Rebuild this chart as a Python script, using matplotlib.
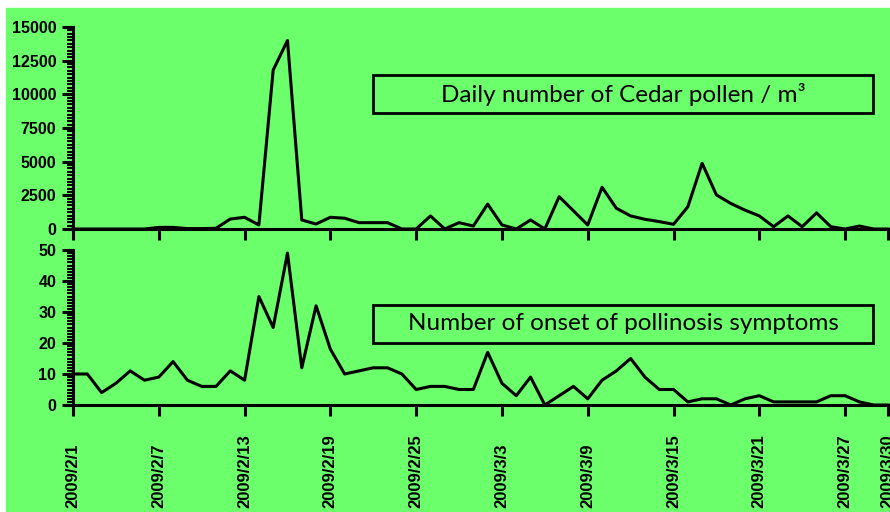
import pandas as pd
import matplotlib
matplotlib.use("Agg")
import matplotlib.pyplot as plt
from matplotlib.patches import Rectangle
from matplotlib.ticker import MultipleLocator

# dias 2009/2/1 .. 2009/3/30
fechas = pd.date_range("2009-02-01", periods=58, freq="D")
etiquetas = [f"{d.year}/{d.month}/{d.day}" for d in fechas]

# polen de cedro por dia (granos / m3)
polen = [0, 0, 0, 0, 0, 0, 120, 120, 30, 30,
         50, 740, 870, 300, 11800, 14000, 670, 370, 870, 800,
         470, 470, 470, 0, 0, 970, 0, 470, 220, 1850,
         300, 0, 670, 0, 2400, 1350, 300, 3100, 1540, 970,
         720, 550, 350, 1650, 4880, 2530, 1900, 1400, 970, 170,
         970, 170, 1200, 170, 0, 220, 0, 0]

# numero de casos de polinosis por dia
sintomas = [10, 10, 4, 7, 11, 8, 9, 14, 8, 6,
            6, 11, 8, 35, 25, 49, 12, 32, 18, 10,
            11, 12, 12, 10, 5, 6, 6, 5, 5, 17,
            7, 3, 9, 0, 3, 6, 2, 8, 11, 15,
            9, 5, 5, 1, 2, 2, 0, 2, 3, 1,
            1, 1, 1, 3, 3, 1, 0, 0]

titulo_sup = "Daily number of Cedar pollen / m\u00b3"
titulo_inf = "Number of onset of pollinosis symptoms"

verde = "#6bff6b"
dias = list(range(len(fechas)))
ticks_x = list(range(0, 55, 6)) + [57]

fig = plt.figure(figsize=(8.9, 5.12), dpi=100)
fig.patch.set_facecolor("white")
fig.patches.append(Rectangle((6 / 890, 0), 1 - 6 / 890, 504 / 512,
                             transform=fig.transFigure, color=verde, zorder=-1))

fuente_y = {"family": "Liberation Sans", "weight": "bold", "size": 11.5}
fuente_x = {"family": "Liberation Sans", "weight": "bold", "size": 12}

def estilo(ax, ymax, ymayor, ymenor):
    ax.set_facecolor("none")
    for s in ["top", "right"]:
        ax.spines[s].set_visible(False)
    for s in ["left", "bottom"]:
        ax.spines[s].set_linewidth(2.2)
    ax.set_xlim(0, 57)
    ax.set_ylim(0, ymax)
    ax.set_xticks(ticks_x)
    ax.yaxis.set_major_locator(MultipleLocator(ymayor))
    ax.yaxis.set_minor_locator(MultipleLocator(ymenor))
    ax.tick_params(axis="both", which="major", direction="out", length=8, width=2.2)
    ax.tick_params(axis="y", which="minor", direction="out", length=4, width=1.5)
    ax.tick_params(axis="y", pad=4)
    for lbl in ax.get_yticklabels():
        lbl.set_fontproperties(fuente_y)

# Grafico superior - polen
Graf_SUP = fig.add_axes([73 / 890, 283 / 512, 815 / 890, 202 / 512])
Graf_SUP.plot(dias, polen, color="black", lw=2.2, clip_on=False)
estilo(Graf_SUP, 15000, 2500, 250)
Graf_SUP.set_xticklabels([])

# Grafico inferior - sintomas
Graf_INF = fig.add_axes([73 / 890, 107 / 512, 815 / 890, 155 / 512])
Graf_INF.plot(dias, sintomas, color="black", lw=2.2, clip_on=False)
estilo(Graf_INF, 50, 10, 1)
Graf_INF.set_xticklabels([etiquetas[i] for i in ticks_x])
Graf_INF.tick_params(axis="x", pad=66)
for lbl in Graf_INF.get_xticklabels():
    lbl.set_fontproperties(fuente_x)
    lbl.set_rotation(90)
    lbl.set_va("bottom")

# cuadros de texto
for (y0, y1, txt) in [(75, 113, titulo_sup), (305, 343, titulo_inf)]:
    fig.patches.append(Rectangle((373 / 890, (512 - y1) / 512), 500 / 890, (y1 - y0) / 512,
                                 transform=fig.transFigure, fill=False,
                                 edgecolor="black", lw=2))
    fig.text(623 / 890, (512 - (y0 + y1) / 2) / 512, txt, ha="center", va="center",
             fontsize=17.5, family="Lato", color="black")

fig.savefig("out.png", dpi=100)
